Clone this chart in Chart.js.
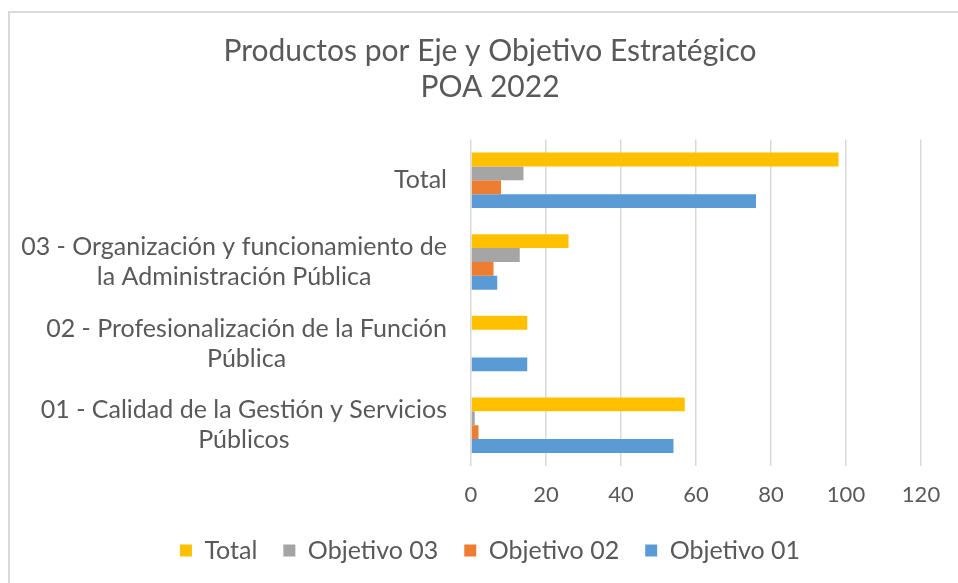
<!DOCTYPE html>
<html>
<head>
<meta charset="utf-8">
<script src="https://cdn.jsdelivr.net/npm/chart.js@4"></script>
<style>
  html, body { margin: 0; padding: 0; background: #ffffff; }
  #wrap { position: relative; width: 958px; height: 583px; overflow: hidden; }
  #frame { position: absolute; left: 8px; top: 11px; width: 1000px; height: 700px;
           border-top: 2px solid #d9d9d9; border-left: 2px solid #d9d9d9; }
  canvas { position: absolute; left: 0; top: 0; }
</style>
</head>
<body>
<div id="wrap">
  <div id="frame"></div>
  <canvas id="c" width="958" height="583"></canvas>
</div>
<script>
const titleLines = ["Productos por Eje y Objetivo Estratégico", "POA 2022"];
const categories = [
  ["Total"],
  ["03 - Organización y funcionamiento de", "la Administración Pública"],
  ["02 - Profesionalización de la Función", "Pública"],
  ["01 - Calidad de la Gestión y Servicios", "Públicos"]
];
const seriesNames = ["Total", "Objetivo 03", "Objetivo 02", "Objetivo 01"];
const totalValues = [98, 26, 15, 57];
const objetivo03 = [14, 13, 0, 1];
const objetivo02 = [8, 6, 0, 2];
const objetivo01 = [76, 7, 15, 54];
const xTicks = [0, 20, 40, 60, 80, 100, 120];

const colors = ["#FFC000", "#A5A5A5", "#ED7D31", "#5B9BD5"];
const seriesValues = [totalValues, objetivo03, objetivo02, objetivo01];
const FONT = "Lato";
const TEXT = "#595959";

const yLabelPlugin = {
  id: "yLabels",
  afterDraw(chart) {
    const ctx = chart.ctx;
    const scale = chart.scales.y;
    const rightEdge = 447;
    const lh = 30;
    ctx.save();
    ctx.font = "25px " + FONT;
    ctx.fillStyle = TEXT;
    ctx.textAlign = "center";
    ctx.textBaseline = "middle";
    categories.forEach((lines, i) => {
      const yc = scale.getPixelForTick(i);
      const maxW = Math.max(...lines.map(l => ctx.measureText(l).width));
      const cx = rightEdge - maxW / 2;
      const y0 = yc - (lines.length - 1) * lh / 2;
      lines.forEach((l, j) => ctx.fillText(l, cx, y0 + j * lh));
    });
    ctx.restore();
  }
};

new Chart(document.getElementById("c"), {
  type: "bar",
  data: {
    labels: categories,
    datasets: seriesNames.map((n, i) => ({
      label: n,
      data: seriesValues[i],
      backgroundColor: colors[i],
      borderWidth: 0,
      categoryPercentage: 0.68,
      barPercentage: 1.0
    }))
  },
  options: {
    indexAxis: "y",
    responsive: false,
    animation: false,
    devicePixelRatio: 1,
    layout: { padding: { left: 59, right: 37, top: 0, bottom: 10 } },
    plugins: {
      title: {
        display: true,
        text: titleLines,
        color: TEXT,
        font: { family: FONT, size: 30, weight: "normal", lineHeight: 1.22 },
        padding: { top: 32.7, bottom: 33.6 }
      },
      legend: {
        position: "bottom",
        labels: {
          color: TEXT,
          font: { family: FONT, size: 25 },
          boxWidth: 12,
          boxHeight: 12,
          padding: 26
        }
      },
      tooltip: { enabled: false }
    },
    scales: {
      x: {
        min: 0, max: 120,
        afterBuildTicks(s) { s.ticks = xTicks.map(v => ({ value: v })); },
        afterFit(s) { s.height = 46; },
        ticks: { color: TEXT, font: { family: FONT, size: 22 }, padding: 16 },
        grid: { color: "#d9d9d9", lineWidth: 1.5, drawTicks: false },
        border: { display: false }
      },
      y: {
        afterFit(s) { s.width = 412; },
        ticks: { display: false },
        grid: { display: false },
        border: { display: false }
      }
    }
  },
  plugins: [yLabelPlugin]
});
</script>
</body>
</html>
